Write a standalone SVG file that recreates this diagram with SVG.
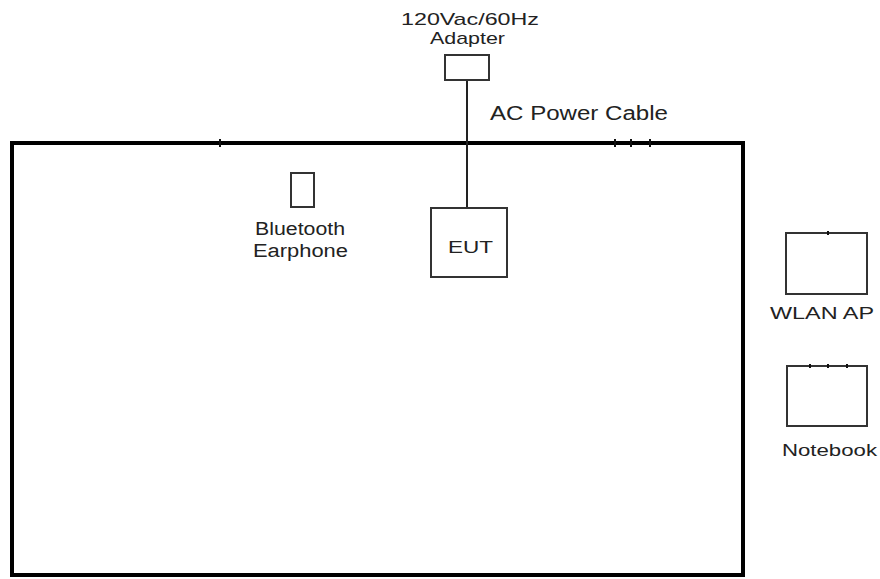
<svg xmlns="http://www.w3.org/2000/svg" width="880" height="579" viewBox="0 0 880 579">
<style>
  .t { font-family: "Liberation Sans", Arial, sans-serif; fill: #222; }
  .box { fill: #fff; stroke: #333; stroke-width: 2; }
  .tick { stroke: #111; stroke-width: 2; }
</style>
<rect width="880" height="579" fill="#fff"/>
<g id="room">
  <rect x="12" y="143" width="731" height="432" fill="none" stroke="#000" stroke-width="4"/>
  <line class="tick" x1="220" y1="139" x2="220" y2="147"/>
  <line class="tick" x1="615" y1="139" x2="615" y2="147"/>
  <line class="tick" x1="631" y1="139" x2="631" y2="147"/>
  <line class="tick" x1="650" y1="139" x2="650" y2="147"/>
</g>
<g id="connectors">
  <line x1="467" y1="80" x2="467" y2="208" stroke="#222" stroke-width="2"/>
</g>
<g id="adapter">
  <rect class="box" x="445" y="55" width="44" height="25"/>
  <text class="t" x="401" y="25" font-size="17" textLength="138" lengthAdjust="spacingAndGlyphs">120Vac/60Hz</text>
  <text class="t" x="430" y="44" font-size="17" textLength="75" lengthAdjust="spacingAndGlyphs">Adapter</text>
</g>
<g id="cable-label">
  <text class="t" x="490" y="120" font-size="20" textLength="178" lengthAdjust="spacingAndGlyphs">AC Power Cable</text>
</g>
<g id="earphone">
  <rect class="box" x="291" y="173" width="23" height="34"/>
  <text class="t" x="255" y="235" font-size="18" textLength="90" lengthAdjust="spacingAndGlyphs">Bluetooth</text>
  <text class="t" x="253" y="257" font-size="18" textLength="95" lengthAdjust="spacingAndGlyphs">Earphone</text>
</g>
<g id="eut">
  <rect class="box" x="431" y="208" width="76" height="69"/>
  <text class="t" x="448" y="253" font-size="17" textLength="45" lengthAdjust="spacingAndGlyphs">EUT</text>
</g>
<g id="wlan-ap">
  <rect class="box" x="786" y="233" width="81" height="61"/>
  <line class="tick" x1="828" y1="231" x2="828" y2="235"/>
  <text class="t" x="770" y="319" font-size="17" textLength="104" lengthAdjust="spacingAndGlyphs">WLAN AP</text>
</g>
<g id="notebook">
  <rect class="box" x="787" y="366" width="80" height="60"/>
  <line class="tick" x1="810" y1="364" x2="810" y2="368"/>
  <line class="tick" x1="828" y1="364" x2="828" y2="368"/>
  <line class="tick" x1="847" y1="364" x2="847" y2="368"/>
  <text class="t" x="782" y="456" font-size="17" textLength="95" lengthAdjust="spacingAndGlyphs">Notebook</text>
</g>
</svg>
